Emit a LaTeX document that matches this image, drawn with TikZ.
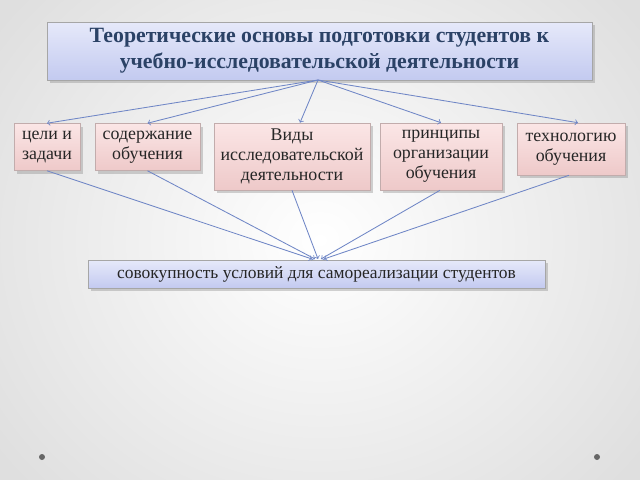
\documentclass[tikz,border=0pt]{standalone}
\usepackage{fontspec}
\setmainfont{Liberation Serif}
\usetikzlibrary{shadows}
\definecolor{lavtop}{HTML}{E6E9FA}
\definecolor{lavbot}{HTML}{C3CAF0}
\definecolor{pinktop}{HTML}{FBE6E6}
\definecolor{pinkbot}{HTML}{EEC9C9}
\definecolor{titletext}{HTML}{2B4266}
\definecolor{linkblue}{HTML}{6F86C6}
\begin{document}
\begin{tikzpicture}[x=0.025cm,y=-0.025cm,
  topbox/.style={draw=gray!70,top color=lavtop,bottom color=lavbot,drop shadow={opacity=.35},inner sep=2pt,align=center,text=titletext},
  pinkbox/.style={draw=pinkbot!60!gray,top color=pinktop,bottom color=pinkbot,drop shadow={opacity=.35},inner sep=2pt,align=center,font=\fontsize{12.7}{14.2}\selectfont,text=black!85},
  link/.style={draw=linkblue,->,semithick}]
\useasboundingbox (0,0) rectangle (640,480);
\begin{scope}
\clip (0,0) rectangle (640,480);
\shade[inner color=white,outer color=gray!25] (-80,-120) rectangle (720,600);
\end{scope}
\node[topbox,minimum width=545*0.025cm,minimum height=58*0.025cm,font=\bfseries\fontsize{15.5}{18.6}\selectfont] (theory) at (319.5,51) {Теоретические основы подготовки студентов к\\учебно-исследовательской деятельности};
\node[pinkbox,minimum width=66*0.025cm,minimum height=47*0.025cm] (goals) at (47,147) {цели и\\задачи};
\node[pinkbox,minimum width=105*0.025cm,minimum height=47*0.025cm] (content) at (147.5,147) {содержание\\обучения};
\node[pinkbox,minimum width=156*0.025cm,minimum height=67*0.025cm] (kinds) at (292,156.5) {Виды\\исследовательской\\деятельности};
\node[pinkbox,minimum width=122*0.025cm,minimum height=67*0.025cm] (princ) at (441,156.5) {принципы\\организации\\обучения};
\node[pinkbox,minimum width=108*0.025cm,minimum height=52*0.025cm] (techn) at (571,149) {технологию\\обучения};
\node[topbox,minimum width=457*0.025cm,minimum height=28*0.025cm,font=\fontsize{12.4}{14}\selectfont,text=black!85] (cond) at (316.5,274) {совокупность условий для самореализации студентов};
\coordinate (hub) at (318,80);
\coordinate (sink) at (318,259);
% from the title down to the five boxes
\draw[link] (hub) -- (goals.north);
\draw[link] (hub) -- (content.north);
\draw[link] (hub) -- ([xshift=8*0.025cm]kinds.north);
\draw[link] (hub) -- (princ.north);
\draw[link] (hub) -- ([xshift=7*0.025cm]techn.north);
% from the boxes to the result
\draw[link] (goals.south) -- ([xshift=-6*0.025cm]sink);
\draw[link] (content.south) -- ([xshift=-3*0.025cm]sink);
\draw[link] (kinds.south) -- (sink);
\draw[link] ([xshift=-1*0.025cm]princ.south) -- ([xshift=3*0.025cm]sink);
\draw[link] ([xshift=-2*0.025cm]techn.south) -- ([xshift=6*0.025cm]sink);
\fill[gray!80!black] (42,457) circle (3) (597,457) circle (3);
\end{tikzpicture}
\end{document}
